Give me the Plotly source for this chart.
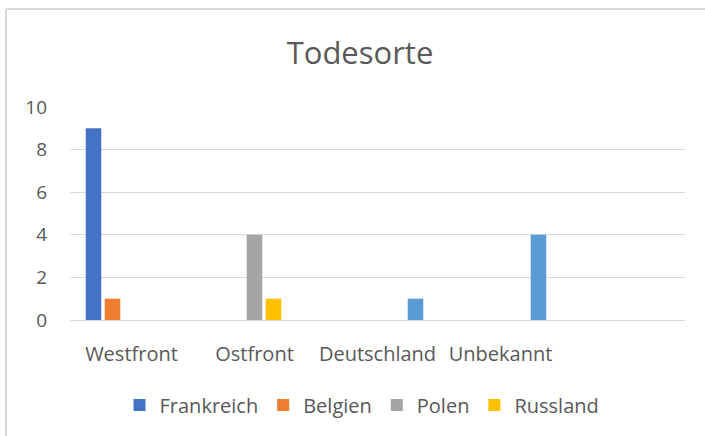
import plotly.graph_objects as go

categories = ["Westfront", "Ostfront", "Deutschland", "Unbekannt"]
frankreich = [9, 0, 0, 0]
belgien = [1, 0, 0, 0]
polen = [0, 4, 0, 0]
russland = [0, 1, 0, 0]
sonstige = [0, 0, 1, 4]

series = [
    ("Frankreich", frankreich, "#4472C4", True),
    ("Belgien", belgien, "#ED7D31", True),
    ("Polen", polen, "#A5A5A5", True),
    ("Russland", russland, "#FFC000", True),
    ("", sonstige, "#5B9BD5", False),
]

fig = go.Figure()
for name, vals, color, show in series:
    fig.add_trace(go.Bar(x=categories, y=vals, name=name, marker=dict(color=color, line=dict(width=0)),
                         showlegend=show))

W, H = 705, 436
L, R, T, B = 70, 20, 107, 116
pw, ph = W - L - R, H - T - B

def px(x):
    return (x - L) / pw

def py(y):
    return (H - B - y) / ph

font = "Open Sans"
fig.update_layout(
    width=W, height=H,
    margin=dict(l=L, r=R, t=T, b=B, pad=0),
    paper_bgcolor="white", plot_bgcolor="white",
    barmode="group", bargap=0.228, bargroupgap=0.18,
    font=dict(family=font, color="#595959", size=20),
    title=dict(text="Todesorte", x=360 / W, xanchor="center", y=1 - 53 / H, yanchor="middle",
               xref="container", yref="container", font=dict(size=31, color="#595959")),
    legend=dict(orientation="h", x=362 / W, xanchor="center", xref="container",
                y=1 - 405 / H, yanchor="middle", yref="container",
                font=dict(size=20, color="#595959"), traceorder="normal"),
    xaxis=dict(type="category", range=[-0.5, 4.5], showgrid=False, showline=False, ticks="",
               ticklabelstandoff=20, tickfont=dict(size=20), zeroline=False),
    yaxis=dict(range=[0, 10], dtick=2, showgrid=True, gridcolor="#D9D9D9", gridwidth=1.3,
               zeroline=True, zerolinecolor="#D9D9D9", zerolinewidth=1.3, showline=False, ticks="",
               ticklabelstandoff=22, tickfont=dict(size=19)),
    shapes=[
        dict(type="line", xref="paper", yref="paper", x0=px(6), x1=px(6), y0=py(9), y1=py(440),
             line=dict(color="#D9D9D9", width=2)),
        dict(type="line", xref="paper", yref="paper", x0=px(6), x1=px(720), y0=py(9), y1=py(9),
             line=dict(color="#D9D9D9", width=2)),
    ],
)

fig.write_html("out.html", config={"displayModeBar": False},
               post_script="document.body.style.margin='0';document.body.style.overflow='hidden';")
